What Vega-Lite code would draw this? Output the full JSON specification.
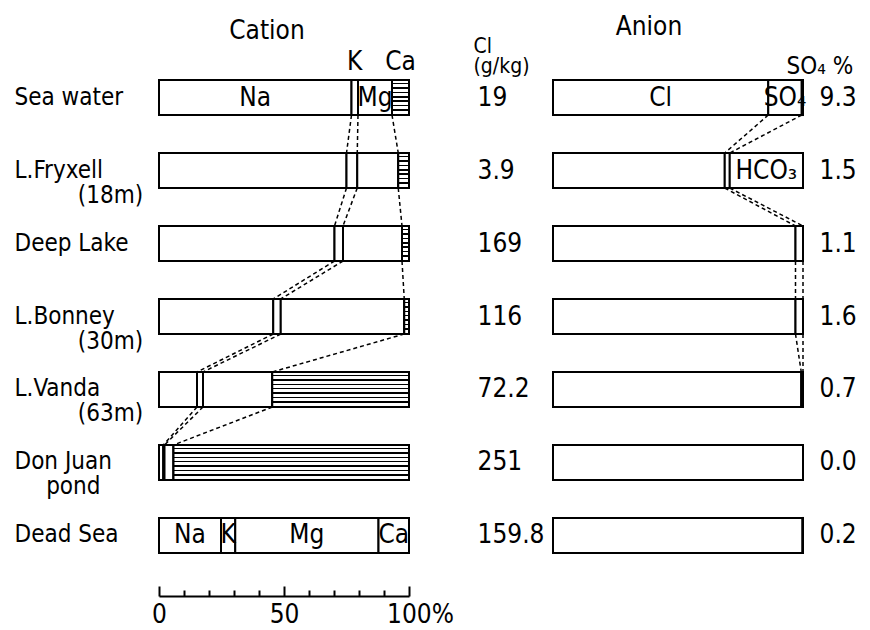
{
  "$schema": "https://vega.github.io/schema/vega-lite/v6.json",
  "background": "white",
  "padding": {"left": 14, "top": 14, "right": 8, "bottom": 0},
  "config": {
    "view": {"stroke": null},
    "font": "Liberation Sans Narrow, DejaVu Sans Condensed, Liberation Sans, sans-serif",
    "text": {"font": "Liberation Sans Narrow, DejaVu Sans Condensed, Liberation Sans, sans-serif", "fontSize": 26, "color": "black"},
    "axis": {"labelFont": "Liberation Sans Narrow, DejaVu Sans Condensed, Liberation Sans, sans-serif", "titleFont": "Liberation Sans Narrow, DejaVu Sans Condensed, Liberation Sans, sans-serif", "labelColor": "black", "titleColor": "black", "labelFontSize": 26, "titleFontWeight": "normal", "grid": false},
    "title": {"font": "Liberation Sans Narrow, DejaVu Sans Condensed, Liberation Sans, sans-serif", "fontSize": 26, "fontWeight": "normal", "color": "black"}
  },
  "datasets": {
    "ions": [
      {"panel": "cation", "row": 1, "site": "Sea water", "seq": 1, "ion": "Na", "pct": 77.0, "lab": "Na"},
      {"panel": "cation", "row": 1, "site": "Sea water", "seq": 2, "ion": "K", "pct": 2.6, "above": "K"},
      {"panel": "cation", "row": 1, "site": "Sea water", "seq": 3, "ion": "Mg", "pct": 13.6, "lab": "Mg"},
      {"panel": "cation", "row": 1, "site": "Sea water", "seq": 4, "ion": "Ca", "pct": 6.8, "above": "Ca"},
      {"panel": "cation", "row": 2, "site": "L.Fryxell (18m)", "seq": 1, "ion": "Na", "pct": 75.0},
      {"panel": "cation", "row": 2, "site": "L.Fryxell (18m)", "seq": 2, "ion": "K", "pct": 4.3},
      {"panel": "cation", "row": 2, "site": "L.Fryxell (18m)", "seq": 3, "ion": "Mg", "pct": 16.4},
      {"panel": "cation", "row": 2, "site": "L.Fryxell (18m)", "seq": 4, "ion": "Ca", "pct": 4.3},
      {"panel": "cation", "row": 3, "site": "Deep Lake", "seq": 1, "ion": "Na", "pct": 70.2},
      {"panel": "cation", "row": 3, "site": "Deep Lake", "seq": 2, "ion": "K", "pct": 3.4},
      {"panel": "cation", "row": 3, "site": "Deep Lake", "seq": 3, "ion": "Mg", "pct": 23.6},
      {"panel": "cation", "row": 3, "site": "Deep Lake", "seq": 4, "ion": "Ca", "pct": 2.8},
      {"panel": "cation", "row": 4, "site": "L.Bonney (30m)", "seq": 1, "ion": "Na", "pct": 45.7},
      {"panel": "cation", "row": 4, "site": "L.Bonney (30m)", "seq": 2, "ion": "K", "pct": 3.0},
      {"panel": "cation", "row": 4, "site": "L.Bonney (30m)", "seq": 3, "ion": "Mg", "pct": 49.4},
      {"panel": "cation", "row": 4, "site": "L.Bonney (30m)", "seq": 4, "ion": "Ca", "pct": 1.9},
      {"panel": "cation", "row": 5, "site": "L.Vanda (63m)", "seq": 1, "ion": "Na", "pct": 15.2},
      {"panel": "cation", "row": 5, "site": "L.Vanda (63m)", "seq": 2, "ion": "K", "pct": 2.4},
      {"panel": "cation", "row": 5, "site": "L.Vanda (63m)", "seq": 3, "ion": "Mg", "pct": 27.7},
      {"panel": "cation", "row": 5, "site": "L.Vanda (63m)", "seq": 4, "ion": "Ca", "pct": 54.7},
      {"panel": "cation", "row": 6, "site": "Don Juan pond", "seq": 1, "ion": "Na", "pct": 1.7},
      {"panel": "cation", "row": 6, "site": "Don Juan pond", "seq": 2, "ion": "K", "pct": 0.5},
      {"panel": "cation", "row": 6, "site": "Don Juan pond", "seq": 3, "ion": "Mg", "pct": 3.6},
      {"panel": "cation", "row": 6, "site": "Don Juan pond", "seq": 4, "ion": "Ca", "pct": 94.2},
      {"panel": "cation", "row": 7, "site": "Dead Sea", "seq": 1, "ion": "Na", "pct": 24.8, "lab": "Na"},
      {"panel": "cation", "row": 7, "site": "Dead Sea", "seq": 2, "ion": "K", "pct": 5.7, "lab": "K"},
      {"panel": "cation", "row": 7, "site": "Dead Sea", "seq": 3, "ion": "Mg", "pct": 57.3, "lab": "Mg"},
      {"panel": "cation", "row": 7, "site": "Dead Sea", "seq": 4, "ion": "Ca", "pct": 12.2, "lab": "Ca"},
      {"panel": "anion", "row": 1, "site": "Sea water", "seq": 1, "ion": "Cl", "pct": 86.1, "lab": "Cl"},
      {"panel": "anion", "row": 1, "site": "Sea water", "seq": 2, "ion": "SO4", "pct": 13.4, "lab": "SO₄"},
      {"panel": "anion", "row": 1, "site": "Sea water", "seq": 3, "ion": "HCO3", "pct": 0.5},
      {"panel": "anion", "row": 2, "site": "L.Fryxell (18m)", "seq": 1, "ion": "Cl", "pct": 68.7},
      {"panel": "anion", "row": 2, "site": "L.Fryxell (18m)", "seq": 2, "ion": "SO4", "pct": 2.0},
      {"panel": "anion", "row": 2, "site": "L.Fryxell (18m)", "seq": 3, "ion": "HCO3", "pct": 29.3, "lab": "HCO₃"},
      {"panel": "anion", "row": 3, "site": "Deep Lake", "seq": 1, "ion": "Cl", "pct": 97.0},
      {"panel": "anion", "row": 3, "site": "Deep Lake", "seq": 2, "ion": "SO4", "pct": 3.0},
      {"panel": "anion", "row": 3, "site": "Deep Lake", "seq": 3, "ion": "HCO3", "pct": 0},
      {"panel": "anion", "row": 4, "site": "L.Bonney (30m)", "seq": 1, "ion": "Cl", "pct": 97.0},
      {"panel": "anion", "row": 4, "site": "L.Bonney (30m)", "seq": 2, "ion": "SO4", "pct": 3.0},
      {"panel": "anion", "row": 4, "site": "L.Bonney (30m)", "seq": 3, "ion": "HCO3", "pct": 0},
      {"panel": "anion", "row": 5, "site": "L.Vanda (63m)", "seq": 1, "ion": "Cl", "pct": 99.3},
      {"panel": "anion", "row": 5, "site": "L.Vanda (63m)", "seq": 2, "ion": "SO4", "pct": 0.7},
      {"panel": "anion", "row": 5, "site": "L.Vanda (63m)", "seq": 3, "ion": "HCO3", "pct": 0},
      {"panel": "anion", "row": 6, "site": "Don Juan pond", "seq": 1, "ion": "Cl", "pct": 100},
      {"panel": "anion", "row": 6, "site": "Don Juan pond", "seq": 2, "ion": "SO4", "pct": 0},
      {"panel": "anion", "row": 6, "site": "Don Juan pond", "seq": 3, "ion": "HCO3", "pct": 0},
      {"panel": "anion", "row": 7, "site": "Dead Sea", "seq": 1, "ion": "Cl", "pct": 99.8},
      {"panel": "anion", "row": 7, "site": "Dead Sea", "seq": 2, "ion": "SO4", "pct": 0.2},
      {"panel": "anion", "row": 7, "site": "Dead Sea", "seq": 3, "ion": "HCO3", "pct": 0}
    ],
    "sites": [
      {"row": 1, "site": "Sea water", "cl": "19", "so4": "9.3"},
      {"row": 2, "site": "L.Fryxell (18m)", "cl": "3.9", "so4": "1.5"},
      {"row": 3, "site": "Deep Lake", "cl": "169", "so4": "1.1"},
      {"row": 4, "site": "L.Bonney (30m)", "cl": "116", "so4": "1.6"},
      {"row": 5, "site": "L.Vanda (63m)", "cl": "72.2", "so4": "0.7"},
      {"row": 6, "site": "Don Juan pond", "cl": "251", "so4": "0.0"},
      {"row": 7, "site": "Dead Sea", "cl": "159.8", "so4": "0.2"}
    ]
  },
  "spacing": 144,
  "bounds": "flush",
  "hconcat": [
    {
      "width": 250,
      "height": 473,
      "title": {"text": "Cation", "dx": -17, "offset": 5},
      "data": {"name": "ions"},
      "transform": [
        {"filter": "datum.panel == 'cation'"},
        {"stack": "pct", "groupby": ["site"], "sort": [{"field": "seq", "order": "ascending"}], "as": ["x0", "x1"]}
      ],
      "layer": [
        {
          "mark": {"type": "bar", "fill": "white", "stroke": "black", "strokeWidth": 2},
          "encoding": {
            "x": {"field": "x0", "type": "quantitative", "title": null, "scale": {"domain": [0, 100], "nice": false},
              "axis": {"orient": "bottom", "offset": 43, "values": [0, 10, 20, 30, 40, 50, 60, 70, 80, 90, 100], "tickCount": 11, "title": null,
                "domainColor": "black", "domainWidth": 2, "tickColor": "black", "tickWidth": 2,
                "tickSize": {"condition": {"test": "datum.value % 50 == 0", "value": -10}, "value": -6},
                "labelExpr": "datum.value == 100 ? '100%' : (datum.value % 50 == 0 ? datum.label : '')",
                "labelFlush": false, "labelOverlap": false, "labelPadding": 15,
                "labelOffset": {"condition": {"test": "datum.value == 100", "value": 11}, "value": 0}}},
            "x2": {"field": "x1"},
            "y": {"field": "site", "type": "nominal", "title": null,
              "scale": {"type": "band", "paddingInner": 0.52, "paddingOuter": 0, "domain": ["Sea water", "L.Fryxell (18m)", "Deep Lake", "L.Bonney (30m)", "L.Vanda (63m)", "Don Juan pond", "Dead Sea"]},
              "axis": {"title": null, "domain": false, "ticks": false, "labelAlign": "left", "labelPadding": 145, "labelBaseline": "middle", "labelFontSize": 24, "labelLineHeight": 25, "labelLimit": 0,
                "labelExpr": "split(replace(replace(datum.label, ' (', '|\u2800\u2800\u2800\u2800('), ' pond', '|\u2800\u2800pond'), '|')"}}
          }
        },
        {
          "transform": [{"filter": "datum.ion == 'Ca' && datum.site != 'Dead Sea'"}],
          "mark": {"type": "bar", "stroke": "black", "strokeWidth": 2,
            "fill": {"gradient": "linear", "x1": 0, "y1": 0, "x2": 0, "y2": 1, "stops": [
              {"offset": 0, "color": "white"}, {"offset": 0.085, "color": "white"}, {"offset": 0.085, "color": "black"}, {"offset": 0.125, "color": "black"},
              {"offset": 0.125, "color": "white"}, {"offset": 0.21, "color": "white"}, {"offset": 0.21, "color": "black"}, {"offset": 0.25, "color": "black"},
              {"offset": 0.25, "color": "white"}, {"offset": 0.335, "color": "white"}, {"offset": 0.335, "color": "black"}, {"offset": 0.375, "color": "black"},
              {"offset": 0.375, "color": "white"}, {"offset": 0.46, "color": "white"}, {"offset": 0.46, "color": "black"}, {"offset": 0.5, "color": "black"},
              {"offset": 0.5, "color": "white"}, {"offset": 0.585, "color": "white"}, {"offset": 0.585, "color": "black"}, {"offset": 0.625, "color": "black"},
              {"offset": 0.625, "color": "white"}, {"offset": 0.71, "color": "white"}, {"offset": 0.71, "color": "black"}, {"offset": 0.75, "color": "black"},
              {"offset": 0.75, "color": "white"}, {"offset": 0.835, "color": "white"}, {"offset": 0.835, "color": "black"}, {"offset": 0.875, "color": "black"},
              {"offset": 0.875, "color": "white"}, {"offset": 0.96, "color": "white"}, {"offset": 0.96, "color": "black"}, {"offset": 1, "color": "black"}
            ]}},
          "encoding": {
            "x": {"field": "x0", "type": "quantitative", "title": null},
            "x2": {"field": "x1"},
            "y": {"field": "site", "type": "nominal", "title": null}
          }
        },
        {
          "transform": [
            {"window": [{"op": "lead", "field": "x1", "as": "nx"}, {"op": "lead", "field": "site", "as": "nsite"}], "groupby": ["ion"], "sort": [{"field": "row", "order": "ascending"}]},
            {"filter": "datum.seq < 4 && datum.row < 6"}
          ],
          "mark": {"type": "rule", "color": "black", "strokeDash": [4, 3], "strokeWidth": 1.5},
          "encoding": {
            "x": {"field": "x1", "type": "quantitative", "title": null},
            "x2": {"field": "nx"},
            "y": {"field": "site", "type": "nominal", "bandPosition": 1, "title": null},
            "y2": {"field": "nsite", "bandPosition": 0}
          }
        },
        {
          "transform": [{"filter": "datum.lab"}, {"calculate": "(datum.x0 + datum.x1) / 2", "as": "xm"}],
          "mark": {"type": "text", "baseline": "middle", "align": "center"},
          "encoding": {
            "x": {"field": "xm", "type": "quantitative", "title": null},
            "y": {"field": "site", "type": "nominal", "title": null},
            "text": {"field": "lab"}
          }
        },
        {
          "transform": [{"filter": "datum.above"}, {"calculate": "(datum.x0 + datum.x1) / 2", "as": "xm"}],
          "mark": {"type": "text", "baseline": "bottom", "align": "center", "dy": -5},
          "encoding": {
            "x": {"field": "xm", "type": "quantitative", "title": null},
            "y": {"field": "site", "type": "nominal", "bandPosition": 0, "title": null},
            "text": {"field": "above"}
          }
        }
      ]
    },
    {
      "width": 250,
      "height": 473,
      "title": {"text": "Anion", "dx": -29, "offset": -5},
      "layer": [
        {
          "data": {"name": "ions"},
          "transform": [
            {"filter": "datum.panel == 'anion'"},
            {"stack": "pct", "groupby": ["site"], "sort": [{"field": "seq", "order": "ascending"}], "as": ["x0", "x1"]}
          ],
          "mark": {"type": "bar", "fill": "white", "stroke": "black", "strokeWidth": 2},
          "encoding": {
            "x": {"field": "x0", "type": "quantitative", "scale": {"domain": [0, 100], "nice": false}, "axis": null},
            "x2": {"field": "x1"},
            "y": {"field": "site", "type": "nominal",
              "scale": {"type": "band", "paddingInner": 0.52, "paddingOuter": 0, "domain": ["Sea water", "L.Fryxell (18m)", "Deep Lake", "L.Bonney (30m)", "L.Vanda (63m)", "Don Juan pond", "Dead Sea"]},
              "axis": null}
          }
        },
        {
          "data": {"name": "ions"},
          "transform": [
            {"filter": "datum.panel == 'anion'"},
            {"stack": "pct", "groupby": ["site"], "sort": [{"field": "seq", "order": "ascending"}], "as": ["x0", "x1"]},
            {"window": [{"op": "lead", "field": "x1", "as": "nx"}, {"op": "lead", "field": "site", "as": "nsite"}], "groupby": ["ion"], "sort": [{"field": "row", "order": "ascending"}]},
            {"filter": "datum.seq < 3 && datum.row < 5"}
          ],
          "mark": {"type": "rule", "color": "black", "strokeDash": [4, 3], "strokeWidth": 1.5},
          "encoding": {
            "x": {"field": "x1", "type": "quantitative", "axis": null},
            "x2": {"field": "nx"},
            "y": {"field": "site", "type": "nominal", "bandPosition": 1,
              "scale": {"type": "band", "paddingInner": 0.52, "paddingOuter": 0, "domain": ["Sea water", "L.Fryxell (18m)", "Deep Lake", "L.Bonney (30m)", "L.Vanda (63m)", "Don Juan pond", "Dead Sea"]},
              "axis": null},
            "y2": {"field": "nsite", "bandPosition": 0}
          }
        },
        {
          "data": {"name": "ions"},
          "transform": [
            {"filter": "datum.panel == 'anion'"},
            {"stack": "pct", "groupby": ["site"], "sort": [{"field": "seq", "order": "ascending"}], "as": ["x0", "x1"]},
            {"filter": "datum.lab"},
            {"calculate": "(datum.x0 + datum.x1) / 2", "as": "xm"}
          ],
          "mark": {"type": "text", "baseline": "middle", "align": "center"},
          "encoding": {
            "x": {"field": "xm", "type": "quantitative", "axis": null},
            "y": {"field": "site", "type": "nominal",
              "scale": {"type": "band", "paddingInner": 0.52, "paddingOuter": 0, "domain": ["Sea water", "L.Fryxell (18m)", "Deep Lake", "L.Bonney (30m)", "L.Vanda (63m)", "Don Juan pond", "Dead Sea"]},
              "axis": null},
            "text": {"field": "lab"}
          }
        },
        {
          "data": {"name": "sites"},
          "mark": {"type": "tick", "opacity": 0},
          "encoding": {
            "x": {"datum": 0, "type": "quantitative"},
            "y": {"field": "cl", "type": "nominal", "sort": {"field": "row", "op": "min"},
              "scale": {"type": "band", "paddingInner": 0.52, "paddingOuter": 0},
              "axis": {"orient": "left", "domain": false, "ticks": false, "labelAlign": "left", "labelPadding": 76, "labelBaseline": "middle",
                "title": ["Cl", "(g/kg)"], "titleAngle": 0, "titleAlign": "left", "titleBaseline": "alphabetic", "titleX": -80, "titleY": -28, "titleFontSize": 21, "titleLineHeight": 20}}
          }
        },
        {
          "data": {"name": "sites"},
          "mark": {"type": "tick", "opacity": 0},
          "encoding": {
            "x": {"datum": 0, "type": "quantitative"},
            "y": {"field": "so4", "type": "nominal", "sort": {"field": "row", "op": "min"},
              "scale": {"type": "band", "paddingInner": 0.52, "paddingOuter": 0},
              "axis": {"orient": "right", "domain": false, "ticks": false, "labelAlign": "left", "labelPadding": 16, "labelBaseline": "middle",
                "title": "SO₄ %", "titleAngle": 0, "titleAlign": "left", "titleBaseline": "alphabetic", "titleX": -17, "titleY": -7, "titleFontSize": 24}}
          }
        }
      ],
      "resolve": {"scale": {"y": "independent"}, "axis": {"y": "independent"}}
    }
  ]
}
